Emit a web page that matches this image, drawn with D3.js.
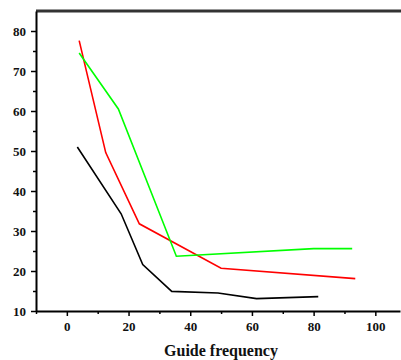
<!DOCTYPE html>
<html lang="en">
  <head>
    <meta charset="UTF-8" />
    <title>Guide frequency</title>
    <script src="https://d3js.org/d3.v7.min.js"></script>
    <style>
      body { margin: 0; background: #fff; }
      text { font-family: "Liberation Serif", "Times New Roman", serif; font-weight: bold; }
    </style>
  </head>
  <body>
    <div id="chart"></div>

    <script>
      // series: [guide frequency, value]
      const blackSeries = [[3.4, 51], [17.6, 34.3], [24.6, 21.6], [34, 14.9], [49, 14.5], [61.5, 13.1], [81.5, 13.6]];
      const redSeries = [[4, 77.6], [12.6, 49.6], [23.5, 31.8], [50, 20.7], [93.5, 18.1]];
      const greenSeries = [[4, 74.5], [16.7, 60.5], [35.5, 23.7], [80, 25.6], [92.5, 25.6]];
      const seriesColors = ["#000000", "#ff0000", "#00ff00"];

      const xTicks = [0, 20, 40, 60, 80, 100];
      const yTicks = [10, 20, 30, 40, 50, 60, 70, 80];

      const width = 401, height = 360;
      const margin = { top: 11, right: 1, bottom: 49, left: 36 };

      const svg = d3
        .select("#chart")
        .append("svg")
        .attr("width", width)
        .attr("height", height);

      const x = d3.scaleLinear().domain([-10, 108]).range([margin.left, width - margin.right]);
      const y = d3.scaleLinear().domain([10, 85]).range([height - margin.bottom, margin.top]);

      // top border
      svg
        .append("line")
        .attr("x1", margin.left)
        .attr("x2", width + 5)
        .attr("y1", margin.top)
        .attr("y2", margin.top)
        .attr("stroke", "#333")
        .attr("stroke-width", 3);

      // x axis with minor ticks
      const xMinor = d3.range(-10, 110, 10).filter((d) => !xTicks.includes(d));
      const gx = svg.append("g").attr("transform", `translate(0,${height - margin.bottom})`);
      gx.call(d3.axisBottom(x).tickValues(xMinor).tickSize(3).tickFormat("").tickSizeOuter(0));
      gx.call((g) => g.select(".domain").remove());
      const gx2 = svg.append("g").attr("transform", `translate(0,${height - margin.bottom})`);
      gx2.call(d3.axisBottom(x).tickValues(xTicks).tickSize(5).tickSizeOuter(0).tickPadding(6));
      gx2.select(".domain").attr("stroke-width", 2);
      gx2.selectAll("text").attr("font-size", 13).attr("fill", "#111");

      // y axis with minor ticks
      const yMinor = d3.range(15, 85, 10);
      const gy = svg.append("g").attr("transform", `translate(${margin.left},0)`);
      gy.call(d3.axisLeft(y).tickValues(yMinor).tickSize(3).tickFormat("").tickSizeOuter(0));
      gy.call((g) => g.select(".domain").remove());
      const gy2 = svg.append("g").attr("transform", `translate(${margin.left},0)`);
      gy2.call(d3.axisLeft(y).tickValues(yTicks).tickSize(5).tickSizeOuter(0).tickPadding(5));
      gy2.select(".domain").attr("stroke-width", 2);
      gy2.selectAll("text").attr("font-size", 13).attr("fill", "#111");
      svg.selectAll(".tick line").attr("stroke-width", 1.5);

      // lines
      const line = d3
        .line()
        .x((d) => x(d[0]))
        .y((d) => y(d[1]));

      [blackSeries, redSeries, greenSeries].forEach((s, i) => {
        svg
          .append("path")
          .datum(s)
          .attr("fill", "none")
          .attr("stroke", seriesColors[i])
          .attr("stroke-width", 1.6)
          .attr("d", line);
      });

      // axis title
      svg
        .append("text")
        .attr("x", 221)
        .attr("y", 356)
        .attr("text-anchor", "middle")
        .attr("font-size", 16)
        .attr("fill", "#111")
        .text("Guide frequency");
    </script>
  </body>
</html>
